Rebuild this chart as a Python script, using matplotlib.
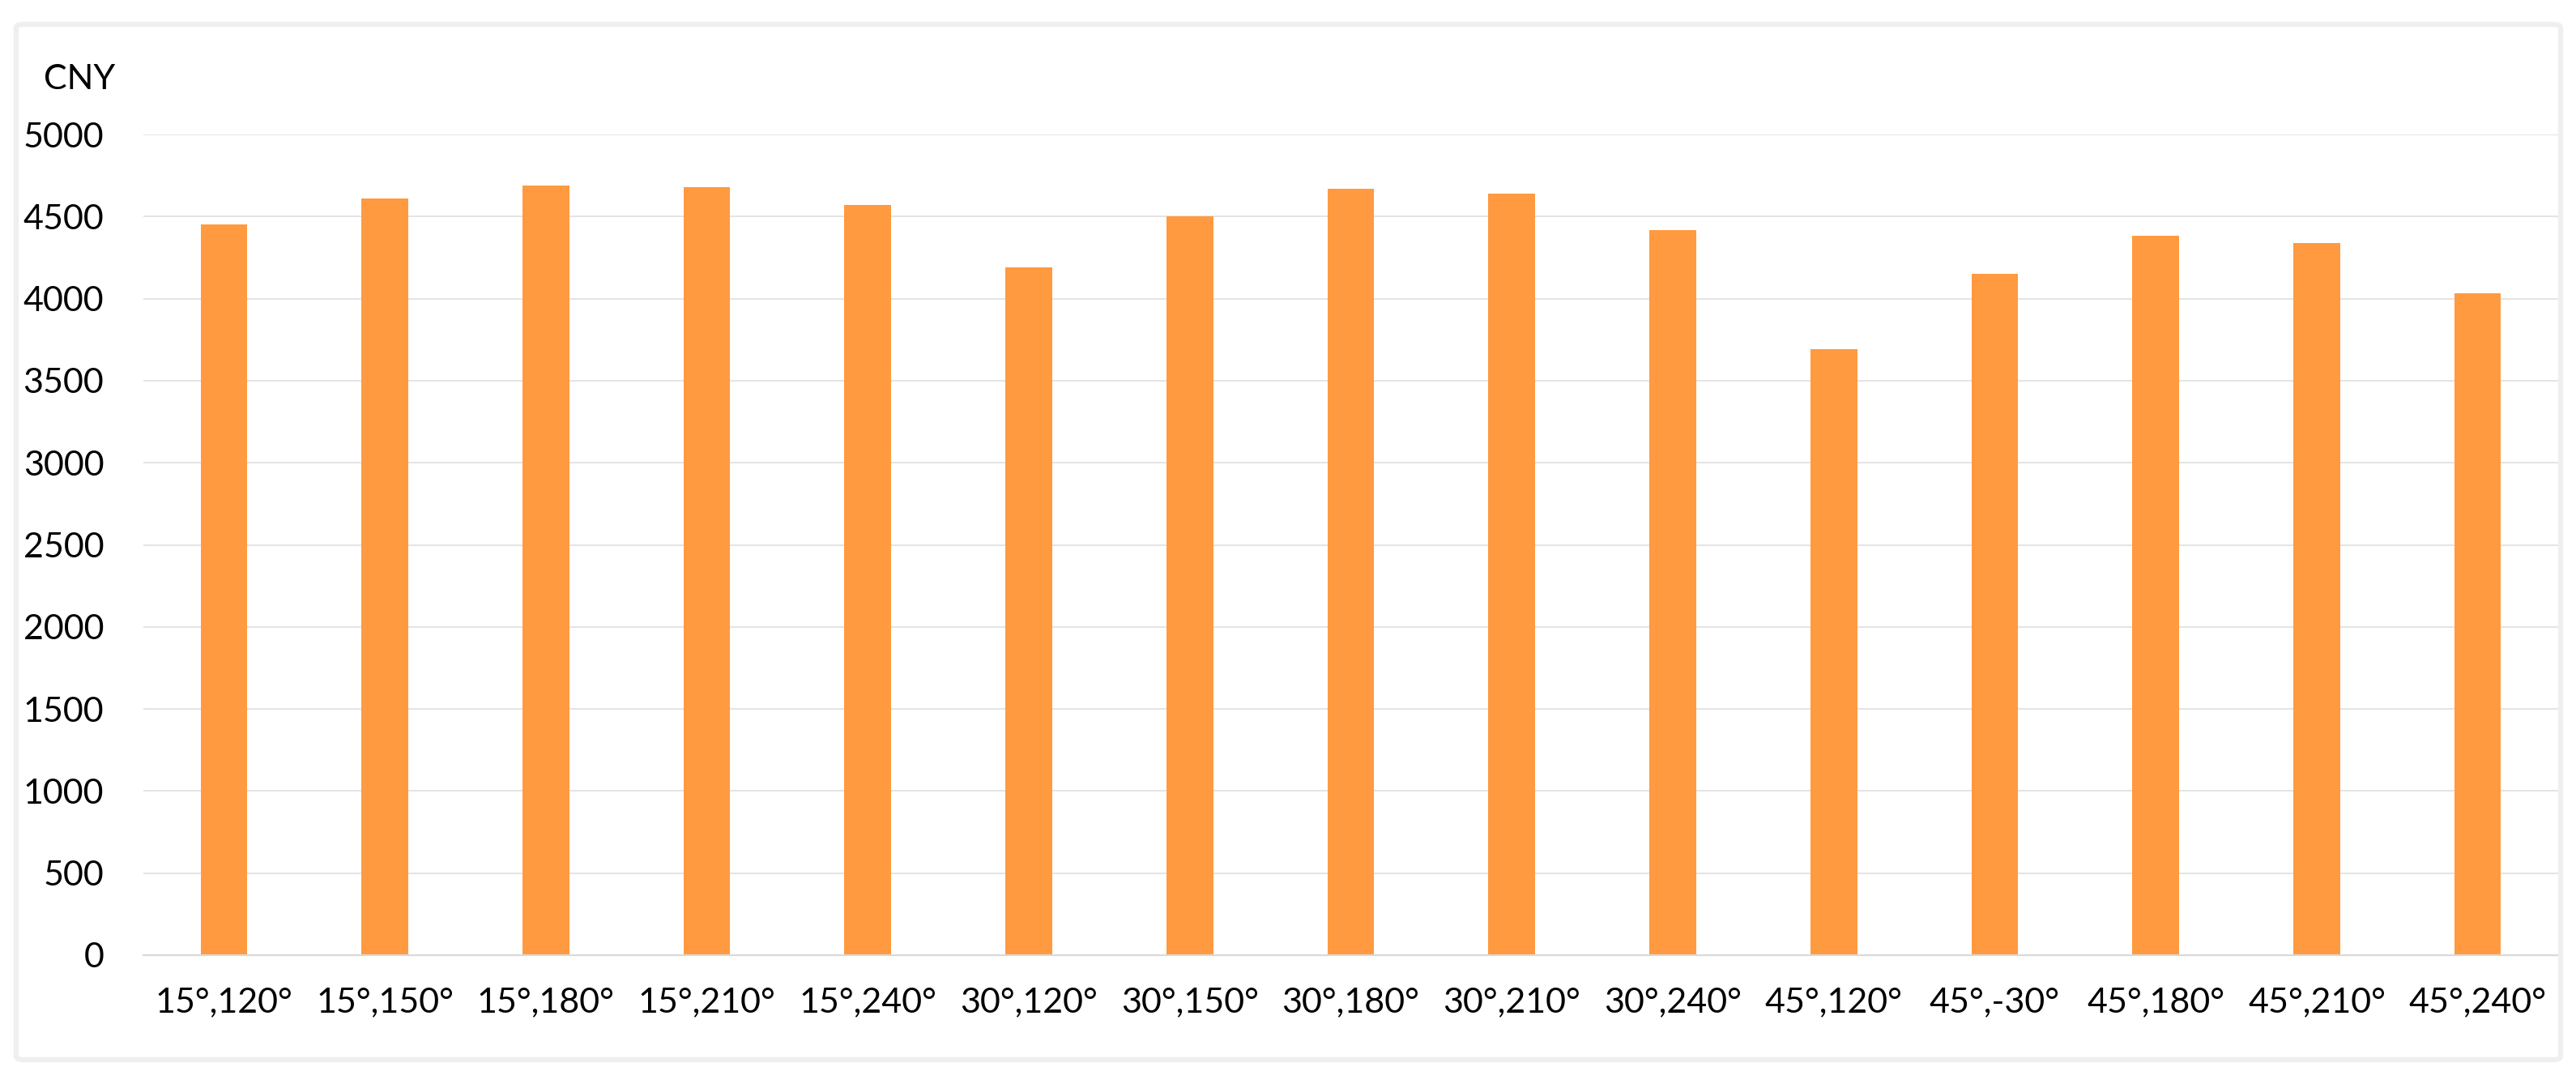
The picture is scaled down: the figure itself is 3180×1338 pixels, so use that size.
import numpy as np
import matplotlib
matplotlib.use('Agg')
import matplotlib.pyplot as plt
from matplotlib.patches import FancyBboxPatch

# Data
categories = ['15°,120°', '15°,150°', '15°,180°', '15°,210°', '15°,240°',
              '30°,120°', '30°,150°', '30°,180°', '30°,210°', '30°,240°',
              '45°,120°', '45°,-30°', '45°,180°', '45°,210°', '45°,240°']
values = [4450, 4610, 4690, 4680, 4570,
          4190, 4500, 4670, 4640, 4420,
          3690, 4150, 4385, 4340, 4035]
yticks = [0, 500, 1000, 1500, 2000, 2500, 3000, 3500, 4000, 4500, 5000]

plt.rcParams['font.family'] = ['Lato', 'DejaVu Sans']

fig = plt.figure(figsize=(31.8, 13.38), dpi=100)

# light grey chart border
border = FancyBboxPatch((20 / 3180, 1 - 1308 / 1338), (3161 - 20) / 3180, (1308 - 30) / 1338,
                        boxstyle='round,pad=0,rounding_size=0.003',
                        transform=fig.transFigure, fill=False,
                        edgecolor='#EFEFEF', linewidth=4.5)
fig.patches.append(border)

ax = fig.add_axes([177 / 3180, 1 - 1179 / 1338, (3158 - 177) / 3180, (1179 - 166) / 1338])

x = np.arange(len(categories))
ax.bar(x, values, width=0.29, color='#FF9A40', zorder=3)

ax.set_xlim(-0.5, len(categories) - 0.5)
ax.set_ylim(0, 5000)
ax.set_yticks(yticks)
ax.set_xticks(x)
ax.set_xticklabels(categories)

ax.yaxis.grid(True, color='#E4E4E4', linewidth=1.4, zorder=0)
ax.set_axisbelow(True)
for side in ['top', 'right', 'left']:
    ax.spines[side].set_visible(False)
ax.spines['bottom'].set_color('#D9D9D9')
ax.spines['bottom'].set_linewidth(1.6)
ax.spines['bottom'].set_zorder(4)

ax.tick_params(axis='both', length=0, labelsize=31, colors='black')
ax.tick_params(axis='y', pad=35)
ax.tick_params(axis='x', pad=28)

fig.text(98 / 3180, 1 - 98 / 1338, 'CNY', fontsize=31, ha='center', va='center')

fig.savefig('out.png', dpi=100, facecolor='white')
